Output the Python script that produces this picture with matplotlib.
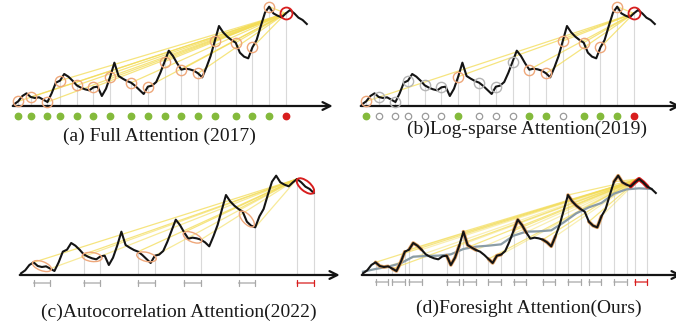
import numpy as np
import matplotlib.pyplot as plt
import matplotlib.transforms as mtransforms
from matplotlib.patches import Ellipse

# time series shared by all four panels (one value per time step)
series = [5, 14, 30, 38, 27, 24, 26, 19, 12, 38,
          70, 76, 96, 88, 76, 62, 55, 50, 47, 56,
          58, 30, 52, 88, 130, 90, 82, 75, 70, 60,
          48, 36, 58, 61, 72, 100, 133, 166, 150, 128,
          109, 112, 110, 106, 98, 86, 116, 150, 195, 240,
          221, 208, 198, 190, 160, 148, 143, 176, 198, 240,
          280, 298, 278, 271, 266, 278, 288, 278, 265, 258, 246]

# attended positions in (a)/(b); the last one is the query
dot_idx = [1, 4, 8, 11, 15, 19, 23, 28, 32, 36, 40, 44, 48, 53, 57, 61, 65]
# log-sparse: which keys are kept (filled dot) and which get an orange ring
sparse_kept = [0, 6, 10, 11, 13, 14, 15]
sparse_ring = [0, 6, 10, 11, 12, 13, 14, 15]

# autocorrelation sub-series (start, end); last one is the query
auto_segs = [(3, 7), (15, 19), (28, 32), (39, 43), (52, 56), (66, 70)]
# foresight attention segments; last one is the query
fore_segs = [(3, 6), (7, 10), (11, 14), (20, 23), (24, 27), (30, 33),
             (36, 39), (43, 46), (49, 52), (54, 57), (60, 63), (65, 68)]
fore_target = 66

# smoothed trend drawn in (d)
trend_idx = [0, 3, 6, 9, 12, 15, 18, 21, 24, 27, 30, 33,
             36, 39, 42, 45, 48, 51, 54, 57, 60, 63, 66, 69]
trend_val = [10, 18, 25, 35, 55, 57, 58, 62, 78, 85, 88, 92,
             118, 130, 131, 134, 158, 185, 203, 216, 244, 257, 260, 258]

captions = ['(a) Full Attention (2017)', '(b)Log-sparse Attention(2019)',
            '(c)Autocorrelation Attention(2022)', '(d)Foresight Attention(Ours)']

W, H = 676, 329
PX_X = 4.183      # pixels per time step
PX_Y = 1 / 3      # pixels per value unit

t = np.arange(len(series))
y = np.array(series, dtype=float)

BLACK = '#141414'
ORANGE = '#eea77a'
RED = '#d81e1e'
GREEN = '#84ba3c'
YELLOW = '#f3dc55'
VGRAY = '#d9d9d9'
BGRAY = '#a8a8a8'

plt.rcParams['font.family'] = ['Liberation Serif', 'DejaVu Serif']

fig = plt.figure(figsize=(W / 100, H / 100), dpi=100)


def panel(left, top):
    ax = fig.add_axes([left / W, 1 - (top + 165) / H, 338 / W, 165 / H])
    ax.set_xlim(-14 / PX_X, (338 - 14) / PX_X)
    ax.set_ylim(-59 / PX_Y, 106 / PX_Y)
    ax.axis('off')
    ax.annotate('', xy=(76.2, 0), xytext=(-0.3, 0), annotation_clip=False,
                arrowprops=dict(arrowstyle='->', color=BLACK, lw=1.6,
                                mutation_scale=14, shrinkA=0, shrinkB=0))
    ax.plot(t, y, color=BLACK, lw=1.5, zorder=5, solid_joinstyle='round')
    return ax


def vlines(ax, idx):
    ax.vlines(idx, 0, y[idx], color=VGRAY, lw=0.8, zorder=1)


def fan(ax, src, dst, alpha=0.75):
    for s in src:
        ax.plot([s, dst], [y[s], y[dst]], color=YELLOW, lw=0.9,
                alpha=alpha, zorder=2)


def bracket(ax, s, e, level, color):
    ax.annotate('', xy=(e, level), xytext=(s, level), annotation_clip=False,
                arrowprops=dict(arrowstyle='|-|,widthA=0.25,widthB=0.25',
                                color=color, lw=0.9, shrinkA=0, shrinkB=0))


def ring(ax, i, color, size=7.4, lw=1.0):
    ax.plot(t[i], y[i], 'o', ms=size, mfc='none', mec=color, mew=lw, zorder=6)


def seg_ellipse(ax, s, e, color, lw=1.0, w=20, h=9):
    dx = (e - s) * PX_X
    dy = (y[e] - y[s]) * PX_Y
    ang = np.degrees(np.arctan2(dy, dx))
    cx = (s + e) / 2
    cy = y[s:e + 1].mean()
    tr = fig.dpi_scale_trans + mtransforms.ScaledTranslation(cx, cy, ax.transData)
    ax.add_patch(Ellipse((0, 0), w / 100, h / 100, angle=ang, fill=False,
                         ec=color, lw=lw, transform=tr, zorder=6))


didx = np.array(dot_idx)
query = dot_idx[-1]

# (a) full attention
ax = panel(0, 0)
vlines(ax, didx)
fan(ax, didx[:-1], query)
for i in didx[:-1]:
    ring(ax, i, ORANGE)
ring(ax, query, RED, size=8.6, lw=1.3)
ax.plot(didx[:-1], np.full(len(didx) - 1, -30), 'o', ms=4.6, color=GREEN,
        mec=GREEN, zorder=6, clip_on=False)
ax.plot([query], [-30], 'o', ms=4.6, color=RED, zorder=6)

# (b) log-sparse attention
ax = panel(348, 0)
vlines(ax, didx)
fan(ax, didx[sparse_ring], query)
for k, i in enumerate(didx[:-1]):
    ring(ax, i, ORANGE if k in sparse_ring else '#b4b4b4')
    if k in sparse_kept:
        ax.plot(i, -30, 'o', ms=4.6, color=GREEN, zorder=6)
    else:
        ax.plot(i, -30, 'o', ms=4.6, mfc='white', mec='#9a9a9a', mew=0.9,
                zorder=6)
ring(ax, query, RED, size=8.6, lw=1.3)
ax.plot([query], [-30], 'o', ms=4.6, color=RED, zorder=6)

# (c) autocorrelation attention
ax = panel(7, 169)
ends = [k for seg in auto_segs for k in seg]
vlines(ax, np.array(ends[2:]))
qs = auto_segs[-1][0]
for s, e in auto_segs[:-1]:
    ax.plot([s, qs], [y[s], y[qs]], color=YELLOW, lw=0.9, alpha=0.75, zorder=2)
    ax.plot([e, qs], [y[e], y[qs]], color=YELLOW, lw=0.9, alpha=0.6, zorder=2)
    seg_ellipse(ax, s, e, ORANGE)
    bracket(ax, s, e, -24, BGRAY)
seg_ellipse(ax, *auto_segs[-1], RED, lw=1.4, w=21, h=10)
bracket(ax, *auto_segs[-1], -24, RED)

# (d) foresight attention
ax = panel(349, 169)
ends = np.array([k for seg in fore_segs for k in seg])
vlines(ax, ends)
fan(ax, [s for s, e in fore_segs[:-1]], fore_target, alpha=0.7)
fan(ax, [e for s, e in fore_segs[:-1]], fore_target, alpha=0.45)
ax.plot(trend_idx, trend_val, color='#8a9ca6', lw=1.6, zorder=4)
for s, e in fore_segs[:-1]:
    ax.plot(t[s:e + 1], y[s:e + 1], color='#e0a060', lw=2.6, zorder=4,
            solid_capstyle='round')
    bracket(ax, s, e, -21, BGRAY)
s, e = fore_segs[-1]
ax.plot(t[s - 1:e + 1], y[s - 1:e + 1], color=RED, lw=3.0, zorder=4,
        solid_capstyle='round')
bracket(ax, s, e, -21, RED)

# captions
cap_pos = [(159, 136), (527, 129), (179, 312), (529, 308)]
for text, (cx, cy) in zip(captions, cap_pos):
    fig.text(cx / W, 1 - cy / H, text, ha='center', va='center',
             fontsize=14, color='#1a1a1a')

fig.savefig('out.png', dpi=100)
